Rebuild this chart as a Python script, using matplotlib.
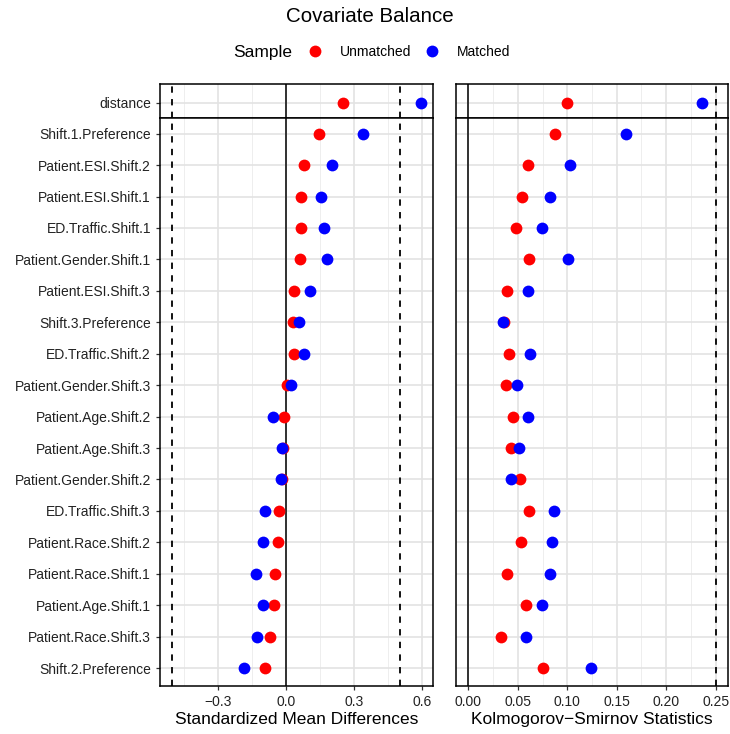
import matplotlib
matplotlib.use("Agg")
import matplotlib.pyplot as plt
from matplotlib.lines import Line2D
import numpy as np

plt.rcParams['font.family'] = ['Liberation Sans', 'DejaVu Sans']

# covariates, top to bottom (distance sits in its own strip)
covariates = ["Shift.1.Preference", "Patient.ESI.Shift.2", "Patient.ESI.Shift.1",
              "ED.Traffic.Shift.1", "Patient.Gender.Shift.1", "Patient.ESI.Shift.3",
              "Shift.3.Preference", "ED.Traffic.Shift.2", "Patient.Gender.Shift.3",
              "Patient.Age.Shift.2", "Patient.Age.Shift.3", "Patient.Gender.Shift.2",
              "ED.Traffic.Shift.3", "Patient.Race.Shift.2", "Patient.Race.Shift.1",
              "Patient.Age.Shift.1", "Patient.Race.Shift.3", "Shift.2.Preference"]

smd_unmatched = [0.145, 0.081, 0.067, 0.064, 0.063, 0.037, 0.031, 0.034, 0.004,
                 -0.007, -0.012, -0.018, -0.032, -0.037, -0.048, -0.051, -0.069, -0.092]
smd_matched = [0.340, 0.201, 0.154, 0.169, 0.179, 0.107, 0.057, 0.079, 0.021,
               -0.059, -0.016, -0.022, -0.094, -0.101, -0.132, -0.100, -0.127, -0.186]
ks_unmatched = [0.088, 0.060, 0.054, 0.048, 0.061, 0.039, 0.036, 0.041, 0.038,
                0.045, 0.043, 0.052, 0.061, 0.053, 0.039, 0.058, 0.033, 0.075]
ks_matched = [0.159, 0.103, 0.083, 0.074, 0.101, 0.060, 0.035, 0.062, 0.049,
              0.060, 0.051, 0.043, 0.087, 0.085, 0.083, 0.074, 0.058, 0.124]

dist_smd = [0.249, 0.592]   # unmatched, matched
dist_ks = [0.100, 0.236]

smd_thresh = 0.5
ks_thresh = 0.25

RED = "#FF0000"
BLUE = "#0000FF"

fig = plt.figure(figsize=(7.30, 7.34), dpi=100)
W, H = 730.0, 734.0

def ax_at(x0, x1, y0, y1):
    return fig.add_axes([x0 / W, 1 - y1 / H, (x1 - x0) / W, (y1 - y0) / H])

ax_ld = ax_at(160, 433, 84, 117.5)
ax_lb = ax_at(160, 433, 117.5, 686)
ax_rd = ax_at(456, 728, 84, 117.5)
ax_rb = ax_at(456, 728, 117.5, 686)

n = len(covariates)
ypos = np.arange(n)[::-1]

def style(ax, xlim, major, minor, ylim, yticks, show_x):
    ax.set_xlim(*xlim)
    ax.set_ylim(*ylim)
    ax.set_xticks(major)
    ax.set_xticks(minor, minor=True)
    ax.set_yticks(yticks)
    ax.grid(True, which="major", color="#E3E3E3", lw=1.2, zorder=0)
    ax.grid(True, which="minor", axis="x", color="#EEEEEE", lw=0.7, zorder=0)
    ax.set_axisbelow(True)
    for s in ax.spines.values():
        s.set_color("black")
        s.set_linewidth(1.1)
    ax.tick_params(axis="x", which="minor", length=0)
    ax.tick_params(axis="both", which="major", length=3, width=0.9,
                   color="#333333", labelsize=10, labelcolor="#222222")
    if not show_x:
        ax.tick_params(axis="x", which="major", length=0, labelbottom=False)

smd_xlim = (-0.5546, 0.6466)
ks_xlim = (-0.0125, 0.2625)
smd_major = [-0.3, 0.0, 0.3, 0.6]
smd_minor = [-0.45, -0.15, 0.15, 0.45]
ks_major = [0.0, 0.05, 0.10, 0.15, 0.20, 0.25]
ks_minor = [0.025, 0.075, 0.125, 0.175, 0.225]

dash = (0, (3.5, 3.5))
for ax in (ax_ld, ax_lb):
    ax.axvline(0, color="black", lw=1.1, zorder=1)
    ax.axvline(-smd_thresh, color="black", lw=1.3, ls=dash, zorder=1)
    ax.axvline(smd_thresh, color="black", lw=1.3, ls=dash, zorder=1)
for ax in (ax_rd, ax_rb):
    ax.axvline(0, color="black", lw=1.1, zorder=1)
    ax.axvline(ks_thresh, color="black", lw=1.3, ls=dash, zorder=1)

ms = 72
ax_ld.scatter([dist_smd[0]], [0], s=ms, color=RED, lw=0, zorder=3)
ax_ld.scatter([dist_smd[1]], [0], s=ms, color=BLUE, lw=0, zorder=4)
ax_rd.scatter([dist_ks[0]], [0], s=ms, color=RED, lw=0, zorder=3)
ax_rd.scatter([dist_ks[1]], [0], s=ms, color=BLUE, lw=0, zorder=4)

ax_lb.scatter(smd_unmatched, ypos, s=ms, color=RED, lw=0, zorder=3)
ax_lb.scatter(smd_matched, ypos, s=ms, color=BLUE, lw=0, zorder=4)
ax_rb.scatter(ks_unmatched, ypos, s=ms, color=RED, lw=0, zorder=3)
ax_rb.scatter(ks_matched, ypos, s=ms, color=BLUE, lw=0, zorder=4)

style(ax_ld, smd_xlim, smd_major, smd_minor, (-0.47, 0.59), [0], False)
style(ax_rd, ks_xlim, ks_major, ks_minor, (-0.47, 0.59), [0], False)
style(ax_lb, smd_xlim, smd_major, smd_minor, (-0.57, n - 1 + 0.515), ypos, True)
style(ax_rb, ks_xlim, ks_major, ks_minor, (-0.57, n - 1 + 0.515), ypos, True)

ax_ld.set_yticklabels(["distance"])
ax_lb.set_yticklabels(covariates)
for ax in (ax_rd, ax_rb):
    ax.tick_params(axis="y", length=0, labelleft=False)

ax_lb.set_xticklabels(["\u22120.3", "0.0", "0.3", "0.6"])
ax_rb.set_xticklabels(["0.00", "0.05", "0.10", "0.15", "0.20", "0.25"])
ax_lb.set_xlabel("Standardized Mean Differences", fontsize=12.5, labelpad=2)
ax_rb.set_xlabel("Kolmogorov\u2212Smirnov Statistics", fontsize=12.5, labelpad=2)

fig.text(370 / W, 1 - 17 / H, "Covariate Balance", ha="center", va="center", fontsize=14.8)
fig.text(263 / W, 1 - 52 / H, "Sample", ha="center", va="center", fontsize=12.5)
handles = [Line2D([], [], ls="", marker="o", ms=8.5, color=RED, mec="none", label="Unmatched"),
           Line2D([], [], ls="", marker="o", ms=8.5, color=BLUE, mec="none", label="Matched")]
fig.legend(handles=handles, loc="center left", bbox_to_anchor=(307 / W, 1 - 52 / H),
           ncol=2, frameon=False, fontsize=10, handletextpad=1.2, columnspacing=0.85,
           handlelength=1.2, borderpad=0, borderaxespad=0)

fig.savefig("out.png", dpi=100)
